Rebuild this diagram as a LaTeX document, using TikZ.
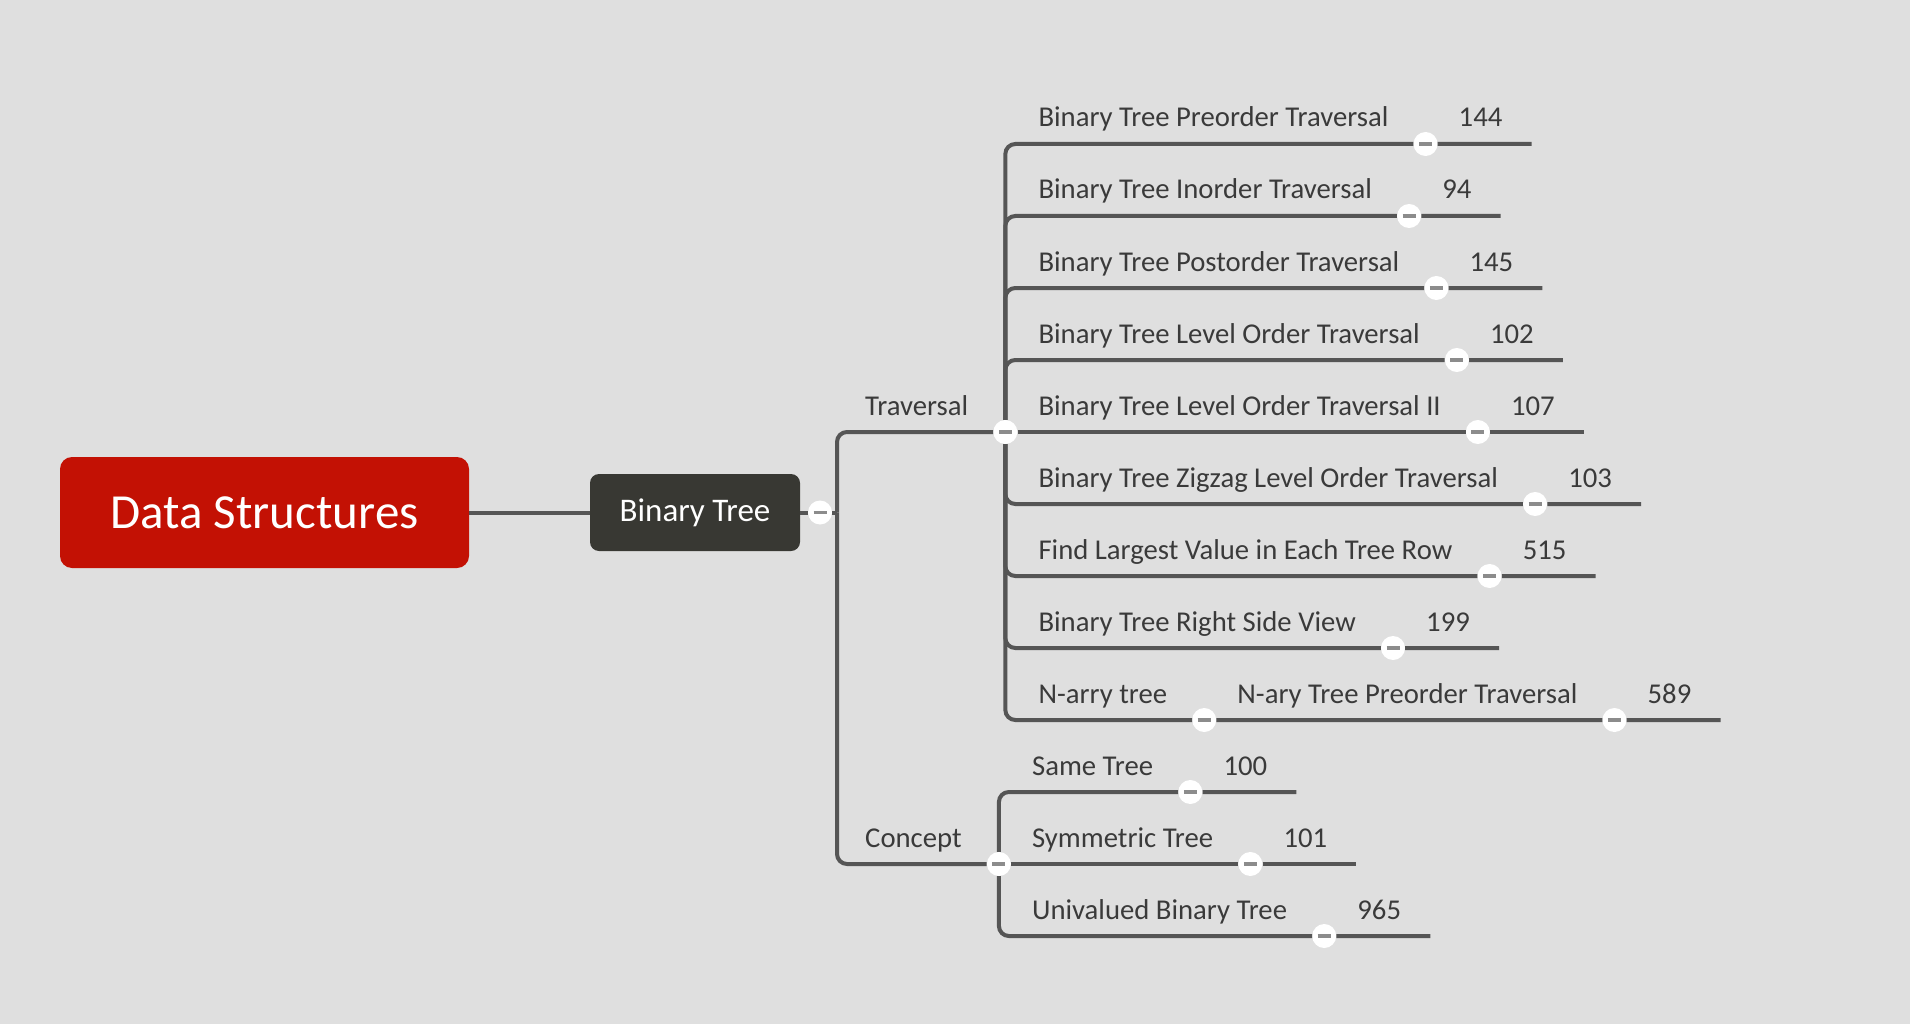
\documentclass[tikz,border=0pt]{standalone}
\usepackage{fontspec}
\setmainfont{Carlito}
\usetikzlibrary{calc,positioning}
\definecolor{bgray}{HTML}{DFDFDF}
\definecolor{lgray}{HTML}{555555}
\definecolor{tgray}{HTML}{3A3A3A}
\definecolor{mgray}{HTML}{8C8C8C}
\definecolor{rootred}{HTML}{C31104}
\definecolor{topdark}{HTML}{383833}
\tikzset{%
	rootbox/.style  = {fill=rootred, rounded corners=12pt, text=white, minimum width=409pt, minimum height=111pt, font=\fontsize{49}{58}\selectfont}, % central topic
	mainbox/.style  = {fill=topdark, rounded corners=9pt, text=white, minimum width=210pt, minimum height=77pt, font=\fontsize{33}{40}\selectfont}, % main topic
	topic/.style    = {anchor=base west, inner sep=0pt, text=tgray, font=\fontsize{28.7}{34}\selectfont}, % subtopic
	knob/.style     = {circle, fill=white, minimum size=24pt, inner sep=0pt,
		path picture={\draw[mgray, line width=3.5pt] ([xshift=5.5pt]path picture bounding box.west) -- ([xshift=-5.5pt]path picture bounding box.east);}}, % collapse button
	branch/.style   = {draw=lgray, line width=4pt, rounded corners=10pt},
}
\begin{document}
\begin{tikzpicture}[x=1pt, y=-1pt]
	\fill[bgray] (0,0) rectangle (1910,1024);
	\useasboundingbox (0,0) rectangle (1910,1024);

	\node[rootbox] (ds) at (264.5,512.5) {Data Structures};
	\node[mainbox] (bt) at (695,512.5) {Binary Tree};
	\node[knob] (btk) at (820,512.5) {};
	\coordinate (hub) at (837,512.5);

	% second level
	\node[topic] (trav) at (865,415) {Traversal};
	\node[knob] (travk) at ($(trav.base east)+(37,17)$) {};
	\node[topic] (conc) at (865,847) {Concept};
	\node[knob] (conck) at ($(conc.base east)+(37,17)$) {};

	% traversal problems
	\node[topic] (t1) at ($(travk)+(33,-305)$) {Binary Tree Preorder Traversal};
	\node[topic] (t2) at ($(t1.base west)+(0,72)$) {Binary Tree Inorder Traversal};
	\node[topic] (t3) at ($(t2.base west)+(0,72)$) {Binary Tree Postorder Traversal};
	\node[topic] (t4) at ($(t3.base west)+(0,72)$) {Binary Tree Level Order Traversal};
	\node[topic] (t5) at ($(t4.base west)+(0,72)$) {Binary Tree Level Order Traversal II};
	\node[topic] (t6) at ($(t5.base west)+(0,72)$) {Binary Tree Zigzag Level Order Traversal};
	\node[topic] (t7) at ($(t6.base west)+(0,72)$) {Find Largest Value in Each Tree Row};
	\node[topic] (t8) at ($(t7.base west)+(0,72)$) {Binary Tree Right Side View};
	\node[topic] (t9) at ($(t8.base west)+(0,72)$) {N-arry tree};
	\node[topic, base right=70pt of t9] (t9a) {N-ary Tree Preorder Traversal};

	% concept problems
	\node[topic] (c1) at ($(conck)+(33,-89)$) {Same Tree};
	\node[topic] (c2) at ($(c1.base west)+(0,72)$) {Symmetric Tree};
	\node[topic] (c3) at ($(c2.base west)+(0,72)$) {Univalued Binary Tree};

	% problem numbers
	\node[topic, base right=70pt of t1] (t1n) {144};
	\node[topic, base right=70pt of t2] (t2n) {94};
	\node[topic, base right=70pt of t3] (t3n) {145};
	\node[topic, base right=70pt of t4] (t4n) {102};
	\node[topic, base right=70pt of t5] (t5n) {107};
	\node[topic, base right=70pt of t6] (t6n) {103};
	\node[topic, base right=70pt of t7] (t7n) {515};
	\node[topic, base right=70pt of t8] (t8n) {199};
	\node[topic, base right=70pt of t9a] (t9an) {589};
	\node[topic, base right=70pt of c1] (c1n) {100};
	\node[topic, base right=70pt of c2] (c2n) {101};
	\node[topic, base right=70pt of c3] (c3n) {965};

	% collapse buttons
	\node[knob] (t1k) at ($(t1.base east)+(37,17)$) {};
	\node[knob] (t2k) at ($(t2.base east)+(37,17)$) {};
	\node[knob] (t3k) at ($(t3.base east)+(37,17)$) {};
	\node[knob] (t4k) at ($(t4.base east)+(37,17)$) {};
	\node[knob] (t5k) at ($(t5.base east)+(37,17)$) {};
	\node[knob] (t6k) at ($(t6.base east)+(37,17)$) {};
	\node[knob] (t7k) at ($(t7.base east)+(37,17)$) {};
	\node[knob] (t8k) at ($(t8.base east)+(37,17)$) {};
	\node[knob] (t9k) at ($(t9.base east)+(37,17)$) {};
	\node[knob] (t9ak) at ($(t9a.base east)+(37,17)$) {};
	\node[knob] (c1k) at ($(c1.base east)+(37,17)$) {};
	\node[knob] (c2k) at ($(c2.base east)+(37,17)$) {};
	\node[knob] (c3k) at ($(c3.base east)+(37,17)$) {};

	% line ends
	\coordinate (t1e) at ($(t1n.base east)+(29,17)$);
	\coordinate (t2e) at ($(t2n.base east)+(29,17)$);
	\coordinate (t3e) at ($(t3n.base east)+(29,17)$);
	\coordinate (t4e) at ($(t4n.base east)+(29,17)$);
	\coordinate (t5e) at ($(t5n.base east)+(29,17)$);
	\coordinate (t6e) at ($(t6n.base east)+(29,17)$);
	\coordinate (t7e) at ($(t7n.base east)+(29,17)$);
	\coordinate (t8e) at ($(t8n.base east)+(29,17)$);
	\coordinate (t9ae) at ($(t9an.base east)+(29,17)$);
	\coordinate (c1e) at ($(c1n.base east)+(29,17)$);
	\coordinate (c2e) at ($(c2n.base east)+(29,17)$);
	\coordinate (c3e) at ($(c3n.base east)+(29,17)$);

	\draw[branch] (ds) -- (bt);
	\draw[branch] (bt) -- (btk);
	\draw[branch] (btk) -- (hub);
	\draw[branch] (hub) |- (travk);
	\draw[branch] (hub) |- (conck);

	\draw[branch] (travk) |- (t1k) -- (t1e);
	\draw[branch] (travk) |- (t2k) -- (t2e);
	\draw[branch] (travk) |- (t3k) -- (t3e);
	\draw[branch] (travk) |- (t4k) -- (t4e);
	\draw[branch] (travk) -- (t5k) -- (t5e);
	\draw[branch] (travk) |- (t6k) -- (t6e);
	\draw[branch] (travk) |- (t7k) -- (t7e);
	\draw[branch] (travk) |- (t8k) -- (t8e);
	\draw[branch] (travk) |- (t9k) -- (t9ak) -- (t9ae);

	\draw[branch] (conck) |- (c1k) -- (c1e);
	\draw[branch] (conck) -- (c2k) -- (c2e);
	\draw[branch] (conck) |- (c3k) -- (c3e);
\end{tikzpicture}
\end{document}
